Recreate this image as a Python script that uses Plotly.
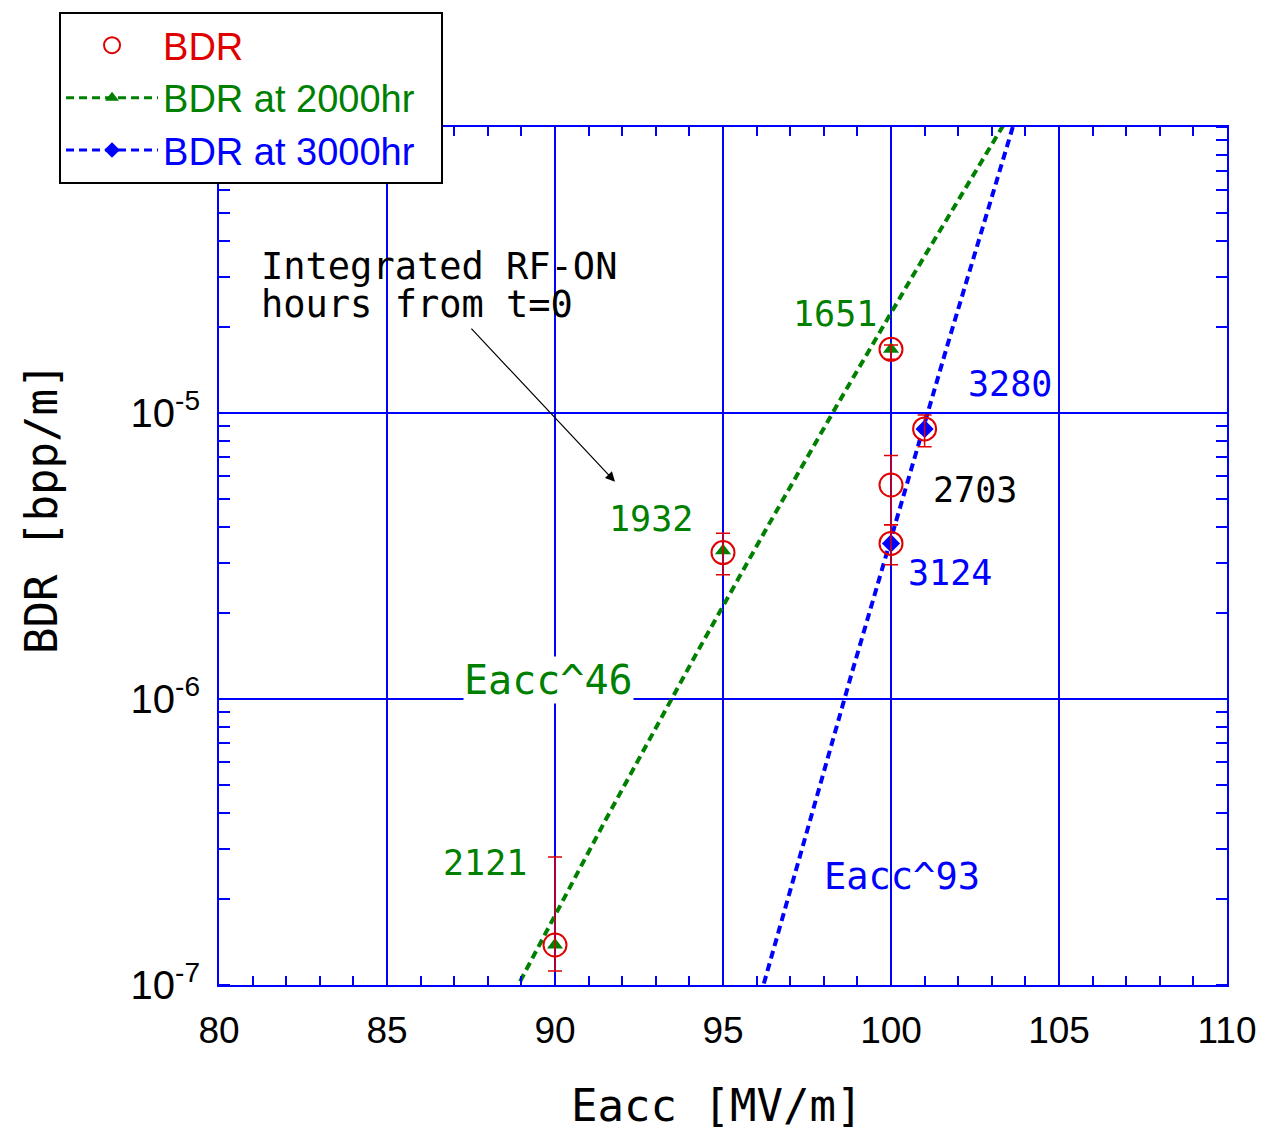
import numpy as np
import plotly.graph_objects as go

# Measured breakdown rates (BDR) vs accelerating gradient
eacc = [90, 95, 100, 100, 100, 101]
bdr = [1.38e-7, 3.25e-6, 1.67e-5, 5.6e-6, 3.5e-6, 8.8e-6]
bdr_upper = [2.8e-7, 3.8e-6, 1.73e-5, 7.1e-6, 4.07e-6, 9.84e-6]
bdr_lower = [1.12e-7, 2.72e-6, 1.54e-5, 4.07e-6, 2.95e-6, 7.62e-6]
rf_hours = [2121, 1932, 1651, 2703, 3124, 3280]

# Points scaled to 2000 hr and 3000 hr
eacc_2000 = [90, 95, 100]
bdr_2000 = [1.38e-7, 3.3e-6, 1.67e-5]
eacc_3000 = [100, 101]
bdr_3000 = [3.5e-6, 8.8e-6]

# Power-law fits: BDR = 1e-7 * (Eacc / E0)^n
fit_2000 = dict(n=46, e0=88.9)
fit_3000 = dict(n=93, e0=96.2)

RED = "#e00000"
GREEN = "#008000"
BLUE = "#0000ff"
MONO = "DejaVu Sans Mono"
SANS = "Liberation Sans, Arial"
NBSP = "\u00a0"


def power_law(fit, e):
    return 1e-7 * (e / fit["e0"]) ** fit["n"]


fig = go.Figure()

for fit, color in ((fit_2000, GREEN), (fit_3000, BLUE)):
    e = np.linspace(fit["e0"] - 0.3, 104.5, 300)
    fig.add_trace(go.Scatter(
        x=e, y=power_law(fit, e), mode="lines", showlegend=False,
        line=dict(color=color, width=4, dash="8px,5px"), hoverinfo="skip"))

err_plus = [u - v for u, v in zip(bdr_upper, bdr)]
err_minus = [v - l for v, l in zip(bdr, bdr_lower)]

fig.add_trace(go.Scatter(
    x=eacc_2000, y=bdr_2000, mode="markers", showlegend=False,
    marker=dict(symbol="triangle-up", size=14, color=GREEN)))
fig.add_trace(go.Scatter(
    x=eacc_3000, y=bdr_3000, mode="markers", showlegend=False,
    marker=dict(symbol="diamond", size=14, color=BLUE)))

fig.add_trace(go.Scatter(
    x=eacc, y=bdr, mode="markers",
    name=f'<span style="color:{RED}">BDR</span>',
    marker=dict(symbol="circle-open", size=23, color=RED, line=dict(width=2, color=RED)),
    error_y=dict(type="data", symmetric=False, array=err_plus, arrayminus=err_minus,
                 color=RED, thickness=1.5, width=7)))

# legend entries for the fitted series
fig.add_trace(go.Scatter(
    x=[None], y=[None], mode="lines+markers",
    name=f'<span style="color:{GREEN}">BDR at 2000hr{NBSP}{NBSP}</span>',
    line=dict(color=GREEN, width=3, dash="8px,5px"),
    marker=dict(symbol="triangle-up", size=12, color=GREEN)))
fig.add_trace(go.Scatter(
    x=[None], y=[None], mode="lines+markers",
    name=f'<span style="color:{BLUE}">BDR at 3000hr{NBSP}{NBSP}</span>',
    line=dict(color=BLUE, width=3, dash="8px,5px"),
    marker=dict(symbol="diamond", size=12, color=BLUE)))

# RF-ON hour labels next to each point (pixel offsets from the point)
label_style = {
    2121: (GREEN, -70, 82),
    1932: (GREEN, -72, 34),
    1651: (GREEN, -56, 35),
    2703: ("black", 84, -5),
    3124: (BLUE, 59, -30),
    3280: (BLUE, 85, 45),
}
annotations = []
for x, y, h in zip(eacc, bdr, rf_hours):
    color, dx, dy = label_style[h]
    annotations.append(dict(
        x=x, y=np.log10(y), text=str(h), showarrow=False,
        xshift=dx, yshift=dy, font=dict(family=MONO, size=35, color=color)))

annotations += [
    dict(x=89.8, y=-5.934, text="Eacc^46", showarrow=False, bgcolor="white",
         borderpad=0, font=dict(family=MONO, size=40, color=GREEN)),
    dict(x=100.33, y=-6.62, text="Eacc^93", showarrow=False,
         font=dict(family=MONO, size=37, color=BLUE)),
    dict(x=81.2, y=-4.488, text="Integrated RF-ON", showarrow=False, xanchor="left",
         font=dict(family=MONO, size=37, color="black")),
    dict(x=81.2, y=-4.620, text="hours from t=0", showarrow=False, xanchor="left",
         font=dict(family=MONO, size=37, color="black")),
    dict(x=91.786, y=-5.24, ax=87.47, ay=-4.70, axref="x", ayref="y", text="",
         showarrow=True, arrowhead=2, arrowsize=1.6, arrowwidth=1.2, arrowcolor="black"),
    # axis titles
    dict(xref="paper", yref="paper", x=0.494, y=-0.141, xanchor="center", yanchor="middle",
         text="Eacc [MV/m]", showarrow=False, font=dict(family=MONO, size=44, color="black")),
    dict(xref="paper", yref="paper", x=-0.1756, y=0.556, xanchor="center", yanchor="middle",
         text="BDR [bpp/m]", textangle=-90, showarrow=False,
         font=dict(family=MONO, size=44, color="black")),
]

axis_common = dict(
    showline=True, linecolor=BLUE, linewidth=2, mirror="allticks",
    showgrid=True, gridcolor=BLUE, gridwidth=2, zeroline=False,
    ticks="", automargin=False,
)

fig.update_layout(
    width=1265, height=1131,
    margin=dict(l=219, r=38, t=127, b=146, autoexpand=False),
    paper_bgcolor="white", plot_bgcolor="white",
    xaxis=dict(
        range=[80, 110], dtick=5, tick0=80, ticklabelstandoff=12,
        tickfont=dict(family=SANS, size=37, color="black"),
        minor=dict(dtick=1, ticks="inside", ticklen=9, tickcolor=BLUE, tickwidth=2, showgrid=False),
        **axis_common),
    yaxis=dict(
        type="log", range=[-7, -4],
        tickvals=[1e-7, 1e-6, 1e-5],
        ticktext=["10<sup>-7</sup>", "10<sup>-6</sup>", "10<sup>-5</sup>"],
        ticklabelstandoff=9,
        tickfont=dict(family=SANS, size=40, color="black"),
        minor=dict(dtick="D1", ticks="inside", ticklen=11, tickcolor=BLUE, tickwidth=2, showgrid=False),
        **axis_common),
    legend=dict(
        x=-0.1587, y=1.134, xanchor="left", yanchor="top",
        bgcolor="white", bordercolor="black", borderwidth=2,
        font=dict(family=SANS, size=38), itemwidth=92, tracegroupgap=0),
    annotations=annotations,
)

fig.write_html("out.html")
